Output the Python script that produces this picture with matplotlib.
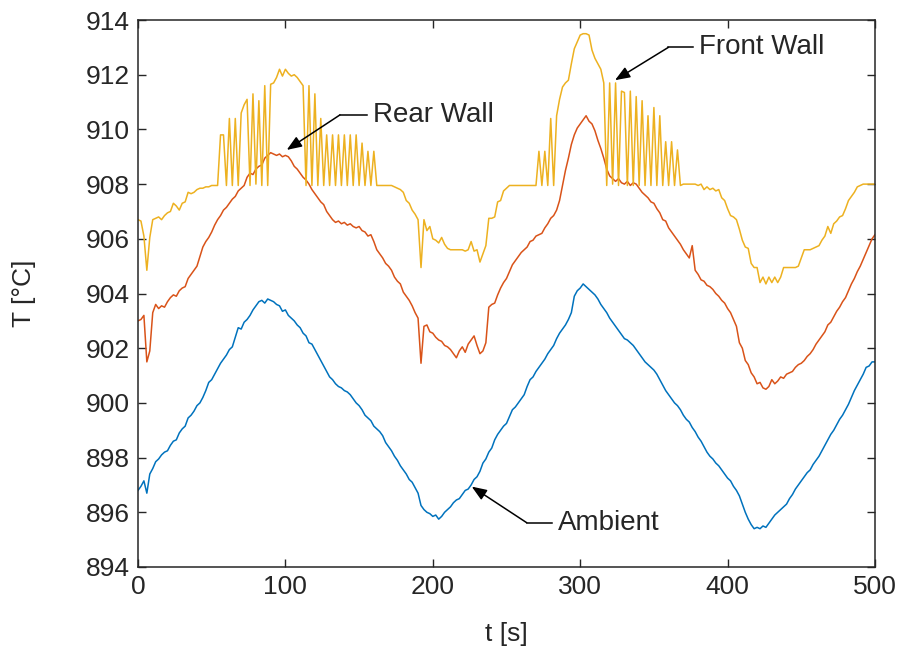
import numpy as np
import matplotlib
matplotlib.use("Agg")
import matplotlib.pyplot as plt

# Sample times [s]
t = np.arange(0, 501, 2)

# Ambient temperature [°C]
ambient = [
    896.80, 896.95, 897.15, 896.70, 897.40, 897.60, 897.85, 897.95, 898.10, 898.20,
    898.25, 898.45, 898.60, 898.65, 898.90, 899.05, 899.15, 899.45, 899.55, 899.70,
    899.90, 900.00, 900.20, 900.45, 900.75, 900.85, 901.05, 901.25, 901.45, 901.60,
    901.75, 901.95, 902.05, 902.40, 902.75, 902.70, 902.95, 903.05, 903.20, 903.40,
    903.55, 903.70, 903.75, 903.65, 903.80, 903.75, 903.70, 903.60, 903.55, 903.35,
    903.40, 903.20, 903.10, 903.00, 902.85, 902.75, 902.55, 902.45, 902.20, 902.15,
    901.95, 901.75, 901.55, 901.35, 901.15, 900.95, 900.85, 900.70, 900.60, 900.55,
    900.45, 900.40, 900.30, 900.15, 900.00, 899.90, 899.75, 899.55, 899.45, 899.35,
    899.15, 899.05, 898.95, 898.80, 898.55, 898.40, 898.25, 898.05, 897.90, 897.70,
    897.55, 897.40, 897.20, 897.10, 896.90, 896.70, 896.25, 896.10, 896.00, 895.95,
    895.85, 895.90, 895.75, 895.85, 896.00, 896.10, 896.20, 896.35, 896.45, 896.50,
    896.65, 896.80, 896.85, 897.00, 897.20, 897.30, 897.50, 897.80, 897.95, 898.20,
    898.35, 898.65, 898.85, 899.00, 899.15, 899.25, 899.50, 899.75, 899.85, 900.00,
    900.15, 900.30, 900.60, 900.85, 900.95, 901.15, 901.30, 901.45, 901.60, 901.80,
    901.95, 902.10, 902.35, 902.55, 902.70, 902.85, 903.05, 903.30, 903.90, 904.10,
    904.20, 904.35, 904.25, 904.15, 904.05, 903.95, 903.80, 903.60, 903.45, 903.30,
    903.10, 902.95, 902.80, 902.65, 902.50, 902.35, 902.30, 902.20, 902.10, 901.95,
    901.80, 901.65, 901.50, 901.40, 901.30, 901.20, 901.05, 900.85, 900.65, 900.45,
    900.30, 900.15, 900.00, 899.90, 899.75, 899.55, 899.40, 899.30, 899.10, 898.95,
    898.75, 898.60, 898.40, 898.20, 898.05, 897.95, 897.80, 897.70, 897.55, 897.40,
    897.25, 897.15, 896.95, 896.80, 896.60, 896.30, 896.00, 895.75, 895.55, 895.40,
    895.45, 895.40, 895.50, 895.45, 895.60, 895.75, 895.90, 896.00, 896.10, 896.20,
    896.30, 896.50, 896.65, 896.85, 897.00, 897.15, 897.30, 897.45, 897.55, 897.75,
    897.90, 898.05, 898.25, 898.45, 898.65, 898.85, 899.00, 899.20, 899.40, 899.55,
    899.75, 899.95, 900.20, 900.45, 900.65, 900.85, 901.05, 901.30, 901.35, 901.50,
    901.50,
]

# Rear wall temperature [°C]
rear_wall = [
    903.00, 903.05, 903.20, 901.50, 901.90, 903.30, 903.60, 903.45, 903.55, 903.50,
    903.70, 903.85, 903.95, 903.90, 904.10, 904.20, 904.25, 904.55, 904.70, 904.85,
    905.00, 905.35, 905.70, 905.90, 906.05, 906.25, 906.50, 906.70, 906.85, 907.05,
    907.15, 907.30, 907.45, 907.55, 907.75, 907.85, 907.95, 908.25, 908.40, 908.35,
    908.55, 908.65, 908.70, 908.95, 909.05, 909.15, 909.10, 909.05, 909.10, 909.00,
    909.05, 909.00, 908.85, 908.65, 908.55, 908.40, 908.25, 908.15, 908.00, 907.80,
    907.65, 907.50, 907.35, 907.25, 907.00, 906.85, 906.70, 906.60, 906.65, 906.55,
    906.60, 906.50, 906.55, 906.45, 906.40, 906.45, 906.30, 906.25, 906.10, 906.15,
    905.90, 905.60, 905.45, 905.30, 905.10, 905.00, 904.85, 904.60, 904.45, 904.35,
    904.05, 903.90, 903.75, 903.55, 903.30, 903.10, 901.45, 902.80, 902.85, 902.60,
    902.55, 902.40, 902.30, 902.25, 902.10, 902.05, 901.95, 901.80, 901.65, 901.90,
    902.05, 901.85, 902.15, 902.30, 902.45, 902.10, 901.80, 901.90, 902.20, 903.50,
    903.60, 903.65, 903.95, 904.20, 904.40, 904.55, 904.80, 905.05, 905.20, 905.35,
    905.50, 905.60, 905.70, 905.90, 905.95, 906.10, 906.15, 906.20, 906.40, 906.55,
    906.75, 906.85, 907.05, 907.40, 907.95, 908.50, 908.95, 909.45, 909.80, 910.05,
    910.20, 910.35, 910.50, 910.30, 910.20, 909.95, 909.60, 909.30, 908.95, 908.55,
    908.30, 908.20, 908.10, 908.20, 908.05, 908.00, 908.10, 907.95, 908.05, 908.00,
    907.85, 907.70, 907.60, 907.50, 907.35, 907.30, 907.10, 906.95, 906.70, 906.65,
    906.40, 906.25, 906.10, 905.95, 905.80, 905.60, 905.45, 905.30, 905.75, 904.85,
    904.70, 904.50, 904.45, 904.30, 904.25, 904.15, 904.00, 903.90, 903.75, 903.65,
    903.45, 903.30, 903.05, 902.80, 902.20, 902.00, 901.55, 901.40, 901.10, 900.95,
    900.70, 900.75, 900.55, 900.50, 900.60, 900.85, 900.70, 900.80, 900.95, 900.90,
    901.05, 901.10, 901.15, 901.30, 901.40, 901.45, 901.55, 901.70, 901.80, 901.95,
    902.15, 902.30, 902.45, 902.60, 902.85, 902.95, 903.15, 903.35, 903.50, 903.70,
    903.85, 904.10, 904.35, 904.55, 904.80, 905.00, 905.25, 905.50, 905.75, 906.00,
    906.15,
]

# Front wall temperature [°C]
front_wall = [
    906.70, 906.65, 906.10, 904.85, 906.05, 906.70, 906.75, 906.80, 906.70, 906.85,
    906.95, 907.00, 907.30, 907.20, 907.05, 907.30, 907.35, 907.70, 907.65, 907.70,
    907.80, 907.85, 907.85, 907.90, 907.90, 907.95, 907.95, 907.95, 909.80, 909.80,
    907.95, 910.40, 907.95, 910.40, 907.95, 910.60, 910.90, 911.10, 907.95, 911.30,
    908.00, 911.05, 907.95, 911.60, 907.95, 911.65, 911.70, 911.90, 912.20, 911.95,
    912.20, 912.05, 911.95, 912.00, 911.90, 911.75, 911.60, 907.95, 911.60, 907.95,
    911.30, 907.95, 910.40, 907.95, 909.80, 907.95, 909.80, 907.95, 909.80, 907.95,
    909.80, 907.95, 909.80, 907.95, 909.80, 907.95, 909.50, 907.95, 909.20, 907.95,
    909.20, 907.95, 907.95, 907.95, 907.95, 907.95, 907.95, 907.90, 907.85, 907.80,
    907.70, 907.40, 907.30, 907.05, 906.90, 906.70, 904.95, 906.70, 906.30, 906.45,
    906.00, 905.95, 905.85, 906.05, 905.80, 905.65, 905.60, 905.60, 905.60, 905.60,
    905.60, 905.55, 905.60, 905.90, 905.55, 905.60, 905.15, 905.45, 905.75, 906.75,
    906.75, 906.80, 907.35, 907.40, 907.75, 907.85, 907.95, 907.95, 907.95, 907.95,
    907.95, 907.95, 907.95, 907.95, 907.95, 907.95, 909.20, 907.95, 909.20, 907.95,
    910.40, 907.95, 910.50, 911.10, 911.55, 911.70, 911.80, 912.40, 912.95, 913.20,
    913.45, 913.50, 913.50, 913.45, 912.90, 912.60, 912.40, 912.20, 911.70, 907.95,
    911.70, 908.00, 911.70, 907.95, 911.40, 911.35, 907.95, 911.40, 907.95, 911.20,
    907.95, 911.05, 907.95, 910.50, 907.95, 910.80, 907.95, 910.50, 907.95, 909.55,
    907.95, 909.55, 907.95, 909.25, 907.95, 908.00, 908.00, 908.00, 908.00, 908.00,
    907.95, 908.00, 907.80, 907.90, 907.80, 907.85, 907.75, 907.80, 907.50, 907.40,
    907.10, 906.85, 906.80, 906.70, 906.35, 905.95, 905.70, 905.65, 905.10, 904.95,
    904.95, 904.40, 904.60, 904.35, 904.60, 904.40, 904.60, 904.40, 904.60, 904.95,
    904.95, 904.95, 904.95, 904.95, 905.00, 905.30, 905.60, 905.60, 905.60, 905.65,
    905.70, 905.75, 905.95, 906.10, 906.45, 906.20, 906.55, 906.65, 906.80, 906.85,
    907.10, 907.40, 907.55, 907.70, 907.90, 907.95, 908.00, 908.00, 908.00, 908.00,
    908.00,
]

x_ticks = [0, 100, 200, 300, 400, 500]
y_ticks = [894, 896, 898, 900, 902, 904, 906, 908, 910, 912, 914]

# Callouts: label, arrow head (t, T), elbow (t, T), end of horizontal leader (t)
callouts = [
    ("Front Wall", (323.6, 911.80), (359.8, 913.0), 376.7),
    ("Rear Wall", (100.9, 909.25), (137.0, 910.53), 155.2),
    ("Ambient", (226.4, 896.94), (263.7, 895.62), 280.7),
]

plt.rcParams["font.family"] = ["Liberation Sans", "DejaVu Sans"]
ink = "#262626"

fig = plt.figure(figsize=(8.99, 6.48), dpi=100)
ax = fig.add_axes([0.1535, 0.125, 0.8198, 0.8441])

ax.plot(t, ambient, color="#0072BD", lw=1.1)
ax.plot(t, rear_wall, color="#D95319", lw=1.1)
ax.plot(t, front_wall, color="#EDB120", lw=1.1)

ax.set_xlim(0, 500)
ax.set_ylim(894, 914)
ax.set_xticks(x_ticks)
ax.set_yticks(y_ticks)
ax.tick_params(direction="in", length=6, width=1.0, colors=ink,
               labelsize=19, top=True, right=True, pad=6)
for s in ax.spines.values():
    s.set_color(ink)
    s.set_linewidth(1.1)

ax.set_xlabel("t [s]", fontsize=19, color=ink, labelpad=16)
ax.set_ylabel("T [°C]", fontsize=19, color=ink, labelpad=36)

for label, head, elbow, end_x in callouts:
    ax.plot([elbow[0], end_x], [elbow[1], elbow[1]], color="k", lw=1.1)
    ax.annotate("", xy=head, xytext=elbow,
                arrowprops=dict(arrowstyle="-|>,head_length=0.9,head_width=0.35",
                                color="k", lw=1.1, shrinkA=0, shrinkB=0))
    ax.text(end_x + 4, elbow[1], label, fontsize=20, color=ink,
            ha="left", va="center")

fig.savefig("out.png", dpi=100)
